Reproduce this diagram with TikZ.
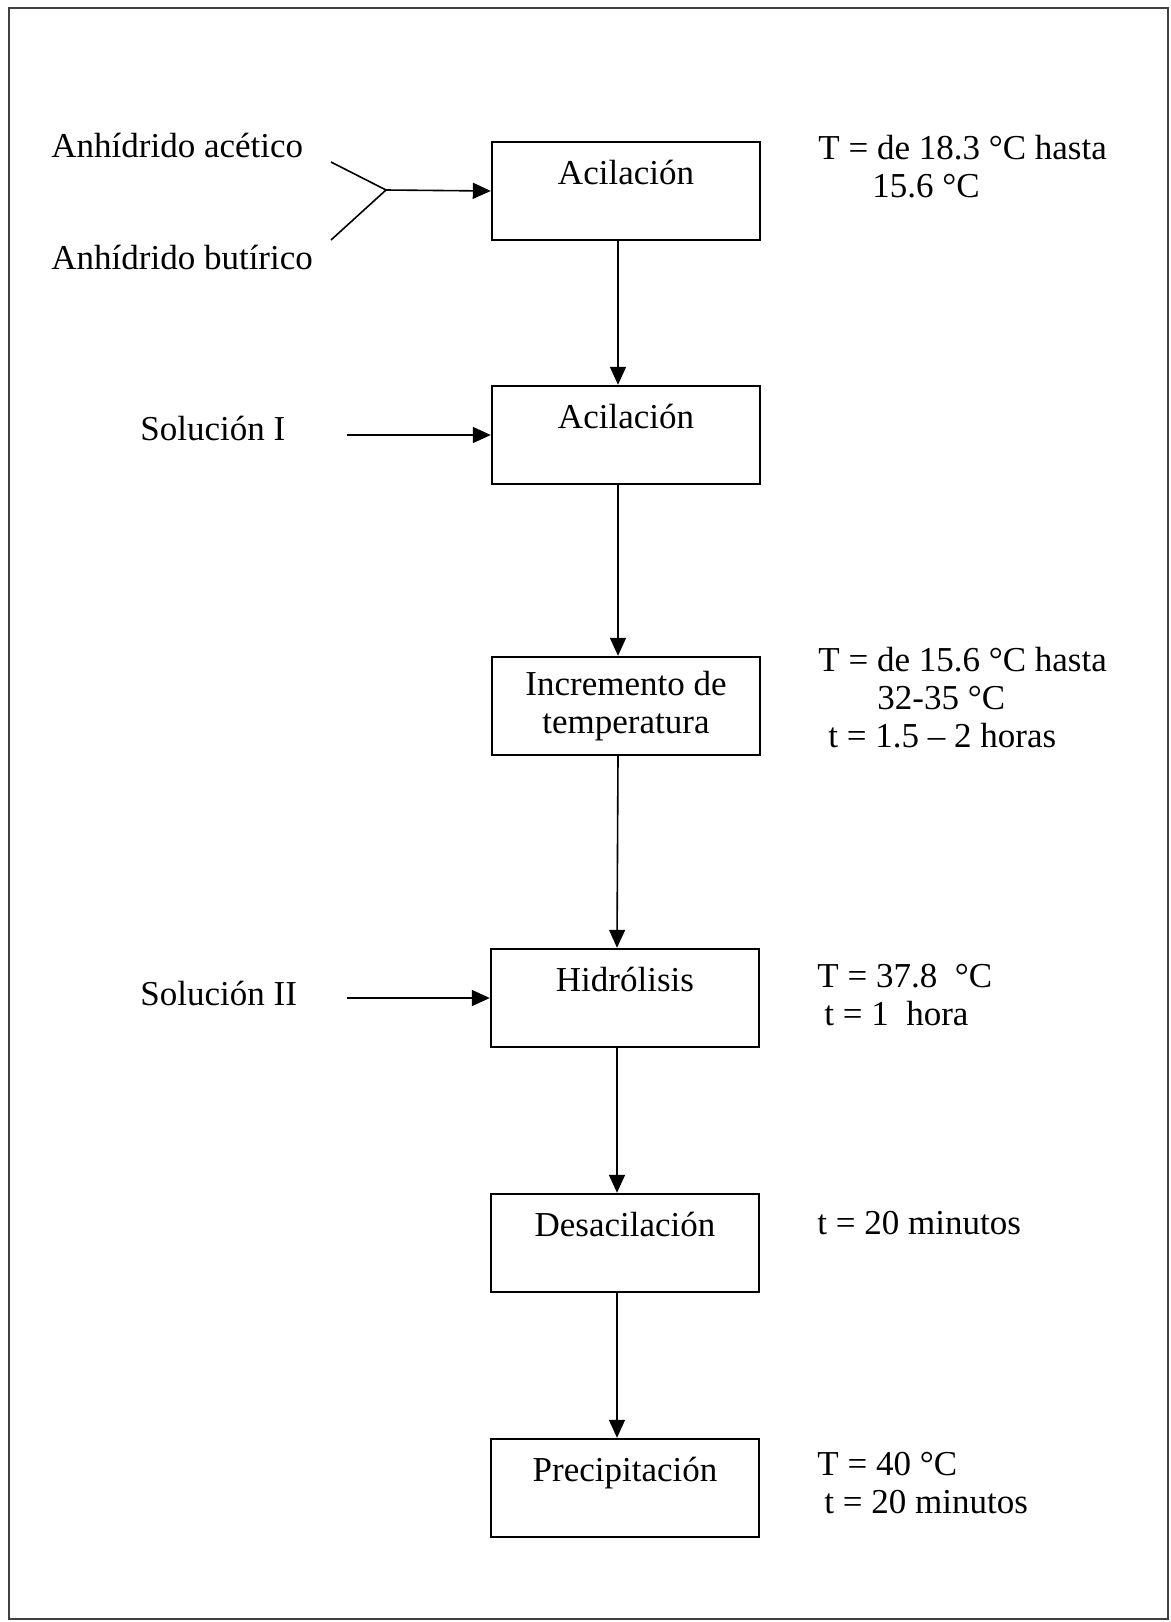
\documentclass[tikz,border=0pt]{standalone}
\usepackage{fontspec}
\setmainfont{Liberation Serif}
\usetikzlibrary{arrows.meta}

\begin{document}
\begin{tikzpicture}[x=0.5pt,y=-0.5pt,
    font=\fontsize{17.5}{19}\selectfont,
    paso/.style={draw,line width=1.2pt,minimum width=134pt,minimum height=49pt,align=center,inner sep=2pt},
    dato/.style={anchor=base west,inner sep=0pt,align=left},
    flecha/.style={line width=0.8pt,-{Triangle[length=9pt,width=8pt]}}]
            \useasboundingbox (0,0) rectangle (1171,1622);
            \draw[line width=1pt,black!75](9,8) rectangle (1168,1619);
            % pasos del proceso
            \node[paso] (acil1) at (626,191) {Acilación\\[-6pt]\strut};
            \node[paso] (acil2) at (626,435) {Acilación\\[-6pt]\strut};
            \node[paso] (incr) at (626,706) {Incremento de\\temperatura};
            \node[paso] (hidro) at (625,998) {Hidrólisis\\[-6pt]\strut};
            \node[paso] (desac) at (625,1243) {Desacilación\\[-6pt]\strut};
            \node[paso] (prec) at (625,1488) {Precipitación\\[-6pt]\strut};
            \foreach \a/\b in {acil1/acil2,acil2/incr,incr/hidro,hidro/desac,desac/prec}{
                    \draw[flecha]([xshift=-4pt]\a.south)--([xshift=-4pt]\b.north);}
            % entradas
            \node[dato] (acet) at (51,157) {Anhídrido acético};
            \node[dato] (buti) at (51,269) {Anhídrido butírico};
            \coordinate (ya) at (331,162);
            \coordinate (yb) at (331,240);
            \coordinate (yj) at (386,190);
            \draw[line width=0.8pt](ya)--(yj)--(yb);
            \draw[flecha](yj)--(acil1.west);
            \node[dato] (sol1) at (140,440) {Solución I};
            \coordinate (s1) at (347,435);
            \draw[flecha](s1)--(acil2.west);
            \node[dato] (sol2) at (140,1005) {Solución II};
            \coordinate (s2) at (347,998);
            \draw[flecha](s2)--(hidro.west);
            % condiciones (base = ultima linea)
            \node[dato] (c1) at (818,197) {T = de 18.3 °C hasta\\\hspace{27pt}15.6 °C};
            \node[dato] (c3) at (818,747) {T = de 15.6 °C hasta\\\hspace{29.5pt}32-35 °C\\\hspace{5pt}t = 1.5 – 2 horas};
            \node[dato] (c4) at (817,1025) {T = 37.8 \ °C\\\hspace{3.5pt}t = 1 \ hora};
            \node[dato] (c5) at (817,1234) {t = 20 minutos};
            \node[dato] (c6) at (817,1513) {T = 40 °C\\\hspace{3.5pt}t = 20 minutos};
        \end{tikzpicture}
\end{document}
